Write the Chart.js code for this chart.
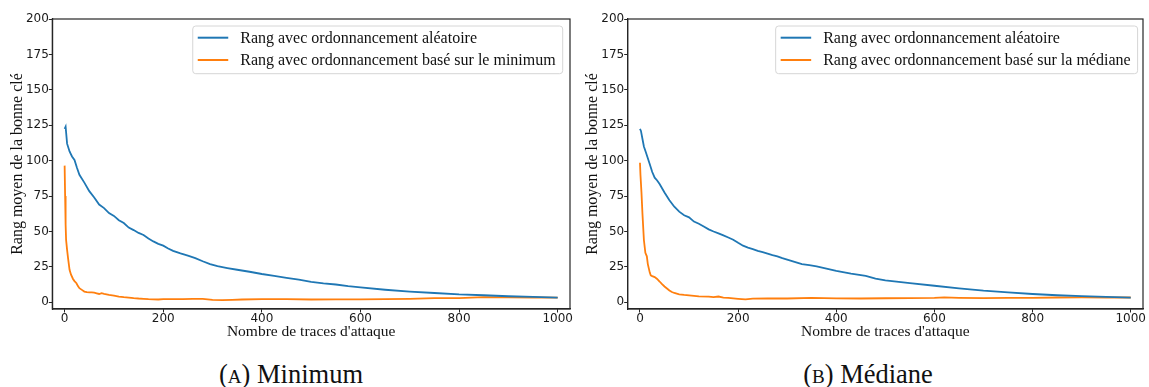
<!DOCTYPE html>
<html>
<head>
<meta charset="utf-8">
<script src="https://cdn.jsdelivr.net/npm/chart.js@4/dist/chart.umd.min.js"></script>
<style>
  html, body { margin: 0; padding: 0; background: #fff; }
  body { width: 1149px; height: 387px; position: relative; overflow: hidden; }
  .panel { position: absolute; top: 0; height: 345px; }
  .caption {
    position: absolute; top: 359px;
    font-family: "Liberation Serif", serif; font-size: 26.5px; color: #111;
    white-space: nowrap; transform: translateX(-50%);
  }
  .sc { font-size: 0.72em; }
</style>
</head>
<body>
<div class="panel" style="left:0;width:575px"><canvas id="chartMin" width="575" height="345"></canvas></div>
<div class="panel" style="left:575px;width:574px"><canvas id="chartMed" width="574" height="345"></canvas></div>
<div class="caption" style="left:291px">(<span class="sc">A</span>) Minimum</div>
<div class="caption" style="left:868px">(<span class="sc">B</span>) Médiane</div>

<script>
// ---- Panel A: minimum-based ordering ----
const tracesAleaA = [0,2,5,10,15,20,25,30,40,50,60,70,80,90,100,110,120,130,140,150,160,170,180,190,200,210,220,235,250,265,280,295,310,330,350,375,400,425,450,475,500,525,550,575,600,650,700,750,800,850,900,950,1000];
const rangAleaA   = [122.5,124,112,106.5,103,100.5,95,90,84.5,78.5,74,69,66.5,63,61,58,56,52.8,51,49,47.5,45,43,41.3,40,38,36.3,34.5,33,31.2,29,27,25.5,24.2,23,21.6,20,18.7,17.3,16,14.5,13.4,12.6,11.4,10.5,8.9,7.6,6.6,5.6,5.0,4.3,3.8,3.3];

const tracesMinA = [0,1,2,3,5,7,10,13,17,20,24,27,30,35,40,45,50,55,60,65,70,75,80,90,100,110,120,130,140,150,160,170,180,190,200,220,240,260,280,300,320,340,360,400,450,500,550,600,650,700,750,800,850,900,950,1000];
const rangMinA   = [96.5,75,55,44,37,31,23,19.5,16.5,15,13.5,11.5,10,8.8,7.6,7.2,7,7,6.8,6.4,5.9,6.5,6.0,5.2,4.7,4.1,3.7,3.4,3.0,2.7,2.5,2.2,2.1,2.0,2.2,2.3,2.3,2.4,2.4,1.7,1.6,1.8,2.0,2.3,2.2,2.0,2.1,2.1,2.3,2.5,3.0,3.0,3.7,3.5,3.4,3.3];

// ---- Panel B: median-based ordering ----
const tracesAleaB = [0,2,5,8,12,15,20,25,30,35,40,50,60,70,80,90,100,110,120,130,140,150,160,170,180,190,200,210,220,230,240,250,260,270,280,290,300,315,330,345,360,380,400,430,460,480,500,550,600,650,700,750,800,850,900,950,1000];
const rangAleaB   = [122.5,121,115.5,110,106,102.8,97.5,92,88,86,83.5,77.5,72,67.5,64,61.5,60,57,55.5,53.5,51.5,50,48.7,47.3,45.8,44.2,42,40,38.6,37.6,36.4,35.4,34.4,33.4,32.5,31.2,30.2,28.6,27,26.2,25.4,23.8,22.2,20.3,18.7,16.8,15.5,13.6,11.7,9.8,8.2,7.1,5.9,5.0,4.4,3.9,3.4];

const tracesMedB = [0,1,3,5,8,11,14,16,18,20,22,25,30,35,40,45,50,55,60,65,70,80,90,100,110,120,140,150,160,170,180,190,200,215,230,260,300,350,400,450,500,550,600,620,650,700,750,800,850,900,950,1000];
const rangMedB   = [98.5,90,78,63,44,35,32.5,27,24,21,19,18.5,17.8,16.5,14.7,12.8,11.2,9.8,8.4,7.3,6.6,5.7,5.2,4.9,4.6,4.2,4.0,3.7,4.1,3.4,3.1,2.8,2.5,2.1,2.6,2.7,2.7,3.1,2.8,2.7,2.9,3.0,3.1,3.5,3.2,3.0,3.1,3.2,3.4,3.5,3.4,3.4];

// ---- Axis ticks ----
const xTicks = [0, 200, 400, 600, 800, 1000];
const yTicks = [0, 25, 50, 75, 100, 125, 150, 175, 200];

const BLUE = '#1f77b4';
const ORANGE = '#ff7f0e';
const INK = '#262626';

function toPoints(xs, ys) {
  return xs.map((x, i) => ({ x: x, y: ys[i] }));
}

// Full rectangular frame around the plot area
const framePlugin = {
  id: 'frame',
  afterDraw(chart) {
    const { ctx, chartArea: a } = chart;
    ctx.save();
    ctx.strokeStyle = INK;
    ctx.lineWidth = 1.2;
    ctx.strokeRect(a.left, a.top, a.right - a.left, a.bottom - a.top);
    ctx.restore();
  }
};

// Legend box in the upper-right corner of the plot area
const innerLegend = {
  id: 'innerLegend',
  afterDatasetsDraw(chart, args, opts) {
    const { ctx, chartArea: a } = chart;
    const sets = chart.data.datasets;
    ctx.save();
    ctx.font = '16px "Liberation Serif", serif';
    let textW = 0;
    sets.forEach(d => { textW = Math.max(textW, ctx.measureText(d.label).width); });
    const padL = 5, sample = 30.5, gap = 12, padR = 7;
    const w = padL + sample + gap + textW + padR;
    const h = 47.7;
    const x0 = a.right - opts.right - w;
    const y0 = a.top + 7;
    ctx.beginPath();
    if (ctx.roundRect) ctx.roundRect(x0, y0, w, h, 3); else ctx.rect(x0, y0, w, h);
    ctx.fillStyle = 'rgba(255,255,255,0.85)';
    ctx.fill();
    ctx.strokeStyle = '#d6d6d6';
    ctx.lineWidth = 1;
    ctx.stroke();
    const rows = [11.7, 34];
    sets.forEach((d, i) => {
      const cy = y0 + rows[i];
      ctx.beginPath();
      ctx.moveTo(x0 + padL, cy);
      ctx.lineTo(x0 + padL + sample, cy);
      ctx.strokeStyle = d.borderColor;
      ctx.lineWidth = 2;
      ctx.stroke();
      ctx.fillStyle = '#111';
      ctx.textBaseline = 'middle';
      ctx.textAlign = 'left';
      ctx.fillText(d.label, x0 + padL + sample + gap, cy + 1);
    });
    ctx.restore();
  }
};

function makeChart(id, series, yAxisWidth, rightPad, legendRight) {
  return new Chart(document.getElementById(id), {
    type: 'line',
    data: {
      datasets: series.map(s => ({
        label: s.label,
        data: toPoints(s.x, s.y),
        borderColor: s.color,
        backgroundColor: s.color,
        borderWidth: 1.8,
        pointRadius: 0,
        tension: 0,
        fill: false
      }))
    },
    options: {
      responsive: false,
      animation: false,
      events: [],
      layout: { padding: { left: 0, right: rightPad, top: 19, bottom: 0 } },
      plugins: {
        legend: { display: false },
        tooltip: { enabled: false },
        innerLegend: { right: legendRight }
      },
      scales: {
        x: {
          type: 'linear',
          min: -25,
          max: 1025,
          afterBuildTicks: s => { s.ticks = xTicks.map(v => ({ value: v })); },
          afterFit: s => { s.height = 36; },
          ticks: {
            font: { family: '"DejaVu Sans", sans-serif', size: 12, lineHeight: 1 },
            color: '#1a1a1a',
            padding: 0,
            maxRotation: 0,
            autoSkip: false,
            callback: v => String(v)
          },
          grid: { drawOnChartArea: false, drawTicks: true, tickLength: 3.5, color: INK, tickWidth: 1 },
          border: { display: true, color: INK, width: 1.2 },
          title: {
            display: true,
            text: "Nombre de traces d'attaque",
            font: { family: '"Liberation Serif", serif', size: 15.5, lineHeight: 1.2 },
            color: '#111',
            padding: { top: 0, bottom: 4 }
          }
        },
        y: {
          type: 'linear',
          min: -4.7,
          max: 200,
          afterBuildTicks: s => { s.ticks = yTicks.map(v => ({ value: v })); },
          afterFit: s => { s.width = yAxisWidth; },
          ticks: {
            font: { family: '"DejaVu Sans", sans-serif', size: 12, lineHeight: 1 },
            color: '#1a1a1a',
            padding: 0,
            autoSkip: false,
            callback: v => String(v)
          },
          grid: { drawOnChartArea: false, drawTicks: true, tickLength: 3.5, color: INK, tickWidth: 1 },
          border: { display: true, color: INK, width: 1.2 },
          title: {
            display: true,
            text: 'Rang moyen de la bonne clé',
            font: { family: '"Liberation Serif", serif', size: 16, lineHeight: 1.2 },
            color: '#111',
            padding: { top: 8, bottom: 0 }
          }
        }
      }
    },
    plugins: [framePlugin, innerLegend]
  });
}

makeChart('chartMin', [
  { label: 'Rang avec ordonnancement aléatoire', x: tracesAleaA, y: rangAleaA, color: BLUE },
  { label: 'Rang avec ordonnancement basé sur le minimum', x: tracesMinA, y: rangMinA, color: ORANGE }
], 52.3, 5, 7.3);

makeChart('chartMed', [
  { label: 'Rang avec ordonnancement aléatoire', x: tracesAleaB, y: rangAleaB, color: BLUE },
  { label: 'Rang avec ordonnancement basé sur la médiane', x: tracesMedB, y: rangMedB, color: ORANGE }
], 52.7, 6, 5.4);
</script>
</body>
</html>
